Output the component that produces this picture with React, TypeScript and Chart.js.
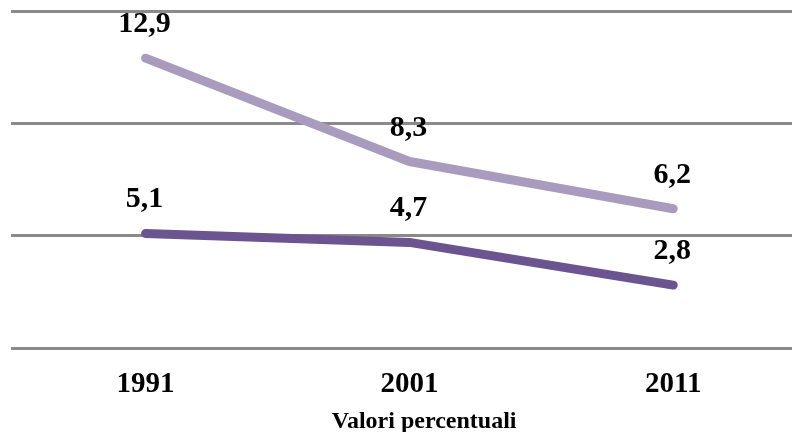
import React, { useEffect, useRef } from "react";
import { Chart, registerables } from "chart.js";

Chart.register(...registerables);

const years = [1991, 2001, 2011];
const seriesLight = [12.9, 8.3, 6.2];
const seriesDark = [5.1, 4.7, 2.8];
const yTicks = [0, 5, 10, 15];
const axisTitle = "Valori percentuali";

const FONT = "'Liberation Serif', 'Times New Roman', serif";

const fmt = (v: number) => v.toFixed(1).replace(".", ",");

const labelPlugin = {
  id: "valueLabels",
  afterDatasetsDraw(chart: any) {
    const ctx = chart.ctx;
    ctx.save();
    ctx.font = `bold 30px ${FONT}`;
    ctx.fillStyle = "#000000";
    ctx.textAlign = "center";
    ctx.textBaseline = "alphabetic";
    chart.data.datasets.forEach((ds: any, i: number) => {
      const meta = chart.getDatasetMeta(i);
      meta.data.forEach((pt: any, j: number) => {
        const v = ds.data[j].y;
        ctx.fillText(fmt(v), pt.x - 1, pt.y - 26);
      });
    });
    // axis title
    const ca = chart.chartArea;
    ctx.font = `bold 24px ${FONT}`;
    ctx.fillText(axisTitle, ca.left + (ca.right - ca.left) * 0.529, ca.bottom + 80);
    ctx.restore();
  },
};

export default function App() {
  const ref = useRef<HTMLCanvasElement>(null);
  useEffect(() => {
    if (!ref.current) return;
    const chart = new Chart(ref.current, {
      type: "line",
      data: {
        datasets: [
          {
            data: years.map((x, i) => ({ x, y: seriesLight[i] })),
            borderColor: "#a99bbe",
            borderWidth: 9,
            borderCapStyle: "round",
            borderJoinStyle: "round",
            pointRadius: 0,
            tension: 0,
          },
          {
            data: years.map((x, i) => ({ x, y: seriesDark[i] })),
            borderColor: "#6c5490",
            borderWidth: 9,
            borderCapStyle: "round",
            borderJoinStyle: "round",
            pointRadius: 0,
            tension: 0,
          },
        ],
      },
      options: {
        animation: false,
        responsive: false,
        events: [],
        layout: { padding: { left: 11, right: 0, top: 11, bottom: 0 } },
        plugins: {
          legend: { display: false },
          tooltip: { enabled: false },
          title: { display: false },
        },
        scales: {
          x: {
            type: "linear",
            min: 1985.9,
            max: 2015.5,
            grid: { display: false, drawTicks: false },
            border: { display: false },
            afterBuildTicks: (scale: any) => {
              scale.ticks = years.map((v) => ({ value: v }));
            },
            afterFit: (scale: any) => {
              scale.height = 84;
            },
            ticks: {
              autoSkip: false,
              maxRotation: 0,
              padding: 19,
              color: "#000000",
              font: { family: FONT, size: 29, weight: "bold" },
              callback: (v: any) => String(v),
            },
          },
          y: {
            min: 0,
            max: 15,
            afterBuildTicks: (scale: any) => {
              scale.ticks = yTicks.map((v) => ({ value: v }));
            },
            afterFit: (scale: any) => {
              scale.width = 0;
            },
            grid: { color: "#8a8a8a", lineWidth: 3, drawTicks: false },
            border: { display: false },
            ticks: { display: false },
          },
        },
      },
      plugins: [labelPlugin],
    });
    return () => chart.destroy();
  }, []);
  return (
    <div style={{ position: "fixed", left: 0, top: 0, width: 792, height: 432, background: "#ffffff" }}>
      <canvas ref={ref} width={792} height={432} style={{ display: "block", width: 792, height: 432 }} />
    </div>
  );
}
